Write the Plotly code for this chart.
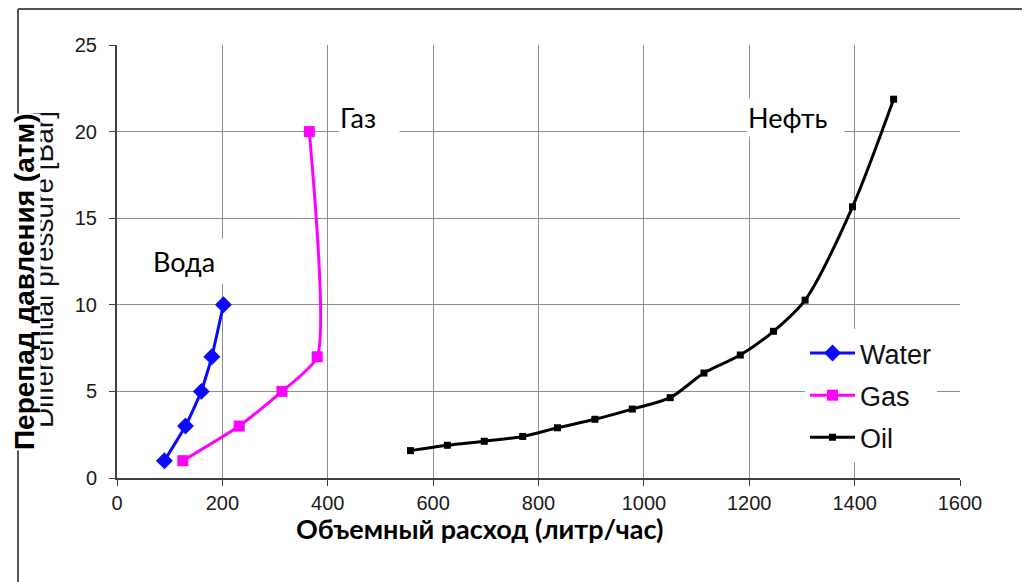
import plotly.graph_objects as go

# ---- data ----
water_x = [90, 130, 160, 180, 202]
water_y = [1, 3, 5, 7, 10]

gas_x = [125, 232, 313, 380, 365]
gas_y = [1, 3, 5, 7, 20]

oil_x = [557, 627, 697, 770, 836, 907, 978, 1050, 1114, 1183, 1246, 1306, 1396, 1474]
oil_y = [1.58, 1.89, 2.12, 2.40, 2.90, 3.39, 3.98, 4.64, 6.06, 7.10, 8.47, 10.27, 15.66, 21.87]

x_ticks = [0, 200, 400, 600, 800, 1000, 1200, 1400, 1600]
y_ticks = [0, 5, 10, 15, 20, 25]

series_names = ["Water", "Gas", "Oil"]
labels_ru = {"water": "Вода", "gas": "Газ", "oil": "Нефть"}
x_title = "Объемный расход (литр/час)"
y_title_ru = "Перепад давления (атм)"
y_title_en = "Differential pressure [Bar]"

W, H = 1030, 582
OFF = 8  # page body margin
L, T = 109, 37
PW, PH = 843, 433
R, B = W - L - PW, H - T - PH


def px(xs):  # screen x -> paper
    return (xs - OFF - L) / PW


def py(ys):  # screen y -> paper
    return (T + PH - (ys - OFF)) / PH


def dx(xs):  # screen x -> data x
    return px(xs) * 1600


def dy(ys):  # screen y -> data y
    return py(ys) * 25


fig = go.Figure()
fig.add_trace(go.Scatter(x=water_x, y=water_y, name=series_names[0], mode="lines+markers",
                         line=dict(color="#0a0aff", width=3, shape="spline", smoothing=0.4),
                         marker=dict(symbol="diamond", size=13, color="#0a0aff"),
                         legendgroup="a"))
fig.add_trace(go.Scatter(x=gas_x, y=gas_y, name=series_names[1], mode="lines+markers",
                         line=dict(color="#ff00ff", width=3, shape="spline", smoothing=0.6),
                         marker=dict(symbol="square", size=11, color="#ff00ff"),
                         legendgroup="b"))
fig.add_trace(go.Scatter(x=oil_x, y=oil_y, name=series_names[2], mode="lines+markers",
                         line=dict(color="#000000", width=3, shape="spline", smoothing=0.8),
                         marker=dict(symbol="square", size=7, color="#000000"),
                         legendgroup="c"))

axis_common = dict(showgrid=True, gridcolor="#8f8f8f", gridwidth=1, zeroline=False,
                   showline=True, linecolor="#404040", linewidth=2,
                   ticks="outside", ticklen=6, tickcolor="#404040", tickwidth=1,
                   tickfont=dict(family="Liberation Sans, Arial", size=20, color="#1a1a1a"))

fig.update_xaxes(range=[0, 1600], tickvals=x_ticks, **axis_common)
fig.update_yaxes(range=[0, 25], tickvals=y_ticks, ticklabelstandoff=8, **axis_common)

annotations = []
# English (partially hidden) y title
annotations.append(dict(xref="paper", yref="paper", x=px(43), y=py(270), text=y_title_en,
                        textangle=-90, showarrow=False, xanchor="center", yanchor="middle",
                        font=dict(family="Liberation Sans, Arial", size=28, color="#111")))
# Russian y title with white backing (covers English partly)
annotations.append(dict(xref="paper", yref="paper", x=px(24), y=py(282), text="<b>" + y_title_ru + "</b>",
                        textangle=-90, showarrow=False, bgcolor="white", borderpad=0,
                        xanchor="center", yanchor="middle", height=32,
                        font=dict(family="Liberation Sans, Arial", size=28, color="#000")))
# x title
annotations.append(dict(xref="paper", yref="paper", x=px(480), y=py(528), text="<b>" + x_title + "</b>",
                        showarrow=False, xanchor="center", yanchor="middle",
                        font=dict(family="Lato, Open Sans", size=27, color="#000")))
# curve labels
lbl_font = dict(family="Lato, Open Sans", size=27, color="#000")
annotations.append(dict(x=dx(184), y=dy(261), text=labels_ru["water"],
                        showarrow=False, bgcolor="white", width=80, height=42, font=lbl_font))
annotations.append(dict(x=dx(369), y=dy(117), text=labels_ru["gas"], align="left",
                        showarrow=False, bgcolor="white", width=58, height=34, font=lbl_font))
annotations.append(dict(x=dx(795), y=dy(117), text=labels_ru["oil"], align="left",
                        showarrow=False, bgcolor="white", width=95, height=35, font=lbl_font))

shapes = [
    dict(type="line", xref="paper", yref="paper", x0=px(18), x1=px(1040), y0=py(9), y1=py(9),
         line=dict(color="#555", width=2)),
    dict(type="line", xref="paper", yref="paper", x0=px(18), x1=px(18), y0=py(9), y1=py(600),
         line=dict(color="#555", width=2)),
]

fig.update_layout(
    width=W, height=H,
    margin=dict(l=L, r=R, t=T, b=B),
    paper_bgcolor="white", plot_bgcolor="white",
    showlegend=True,
    legend=dict(x=px(805), y=py(329), xanchor="left", yanchor="top",
                bgcolor="white", traceorder="grouped", tracegroupgap=4, itemwidth=45,
                font=dict(family="Liberation Sans, Arial", size=27, color="#111")),
    annotations=annotations,
    shapes=shapes,
)

fig.write_html("out.html")
